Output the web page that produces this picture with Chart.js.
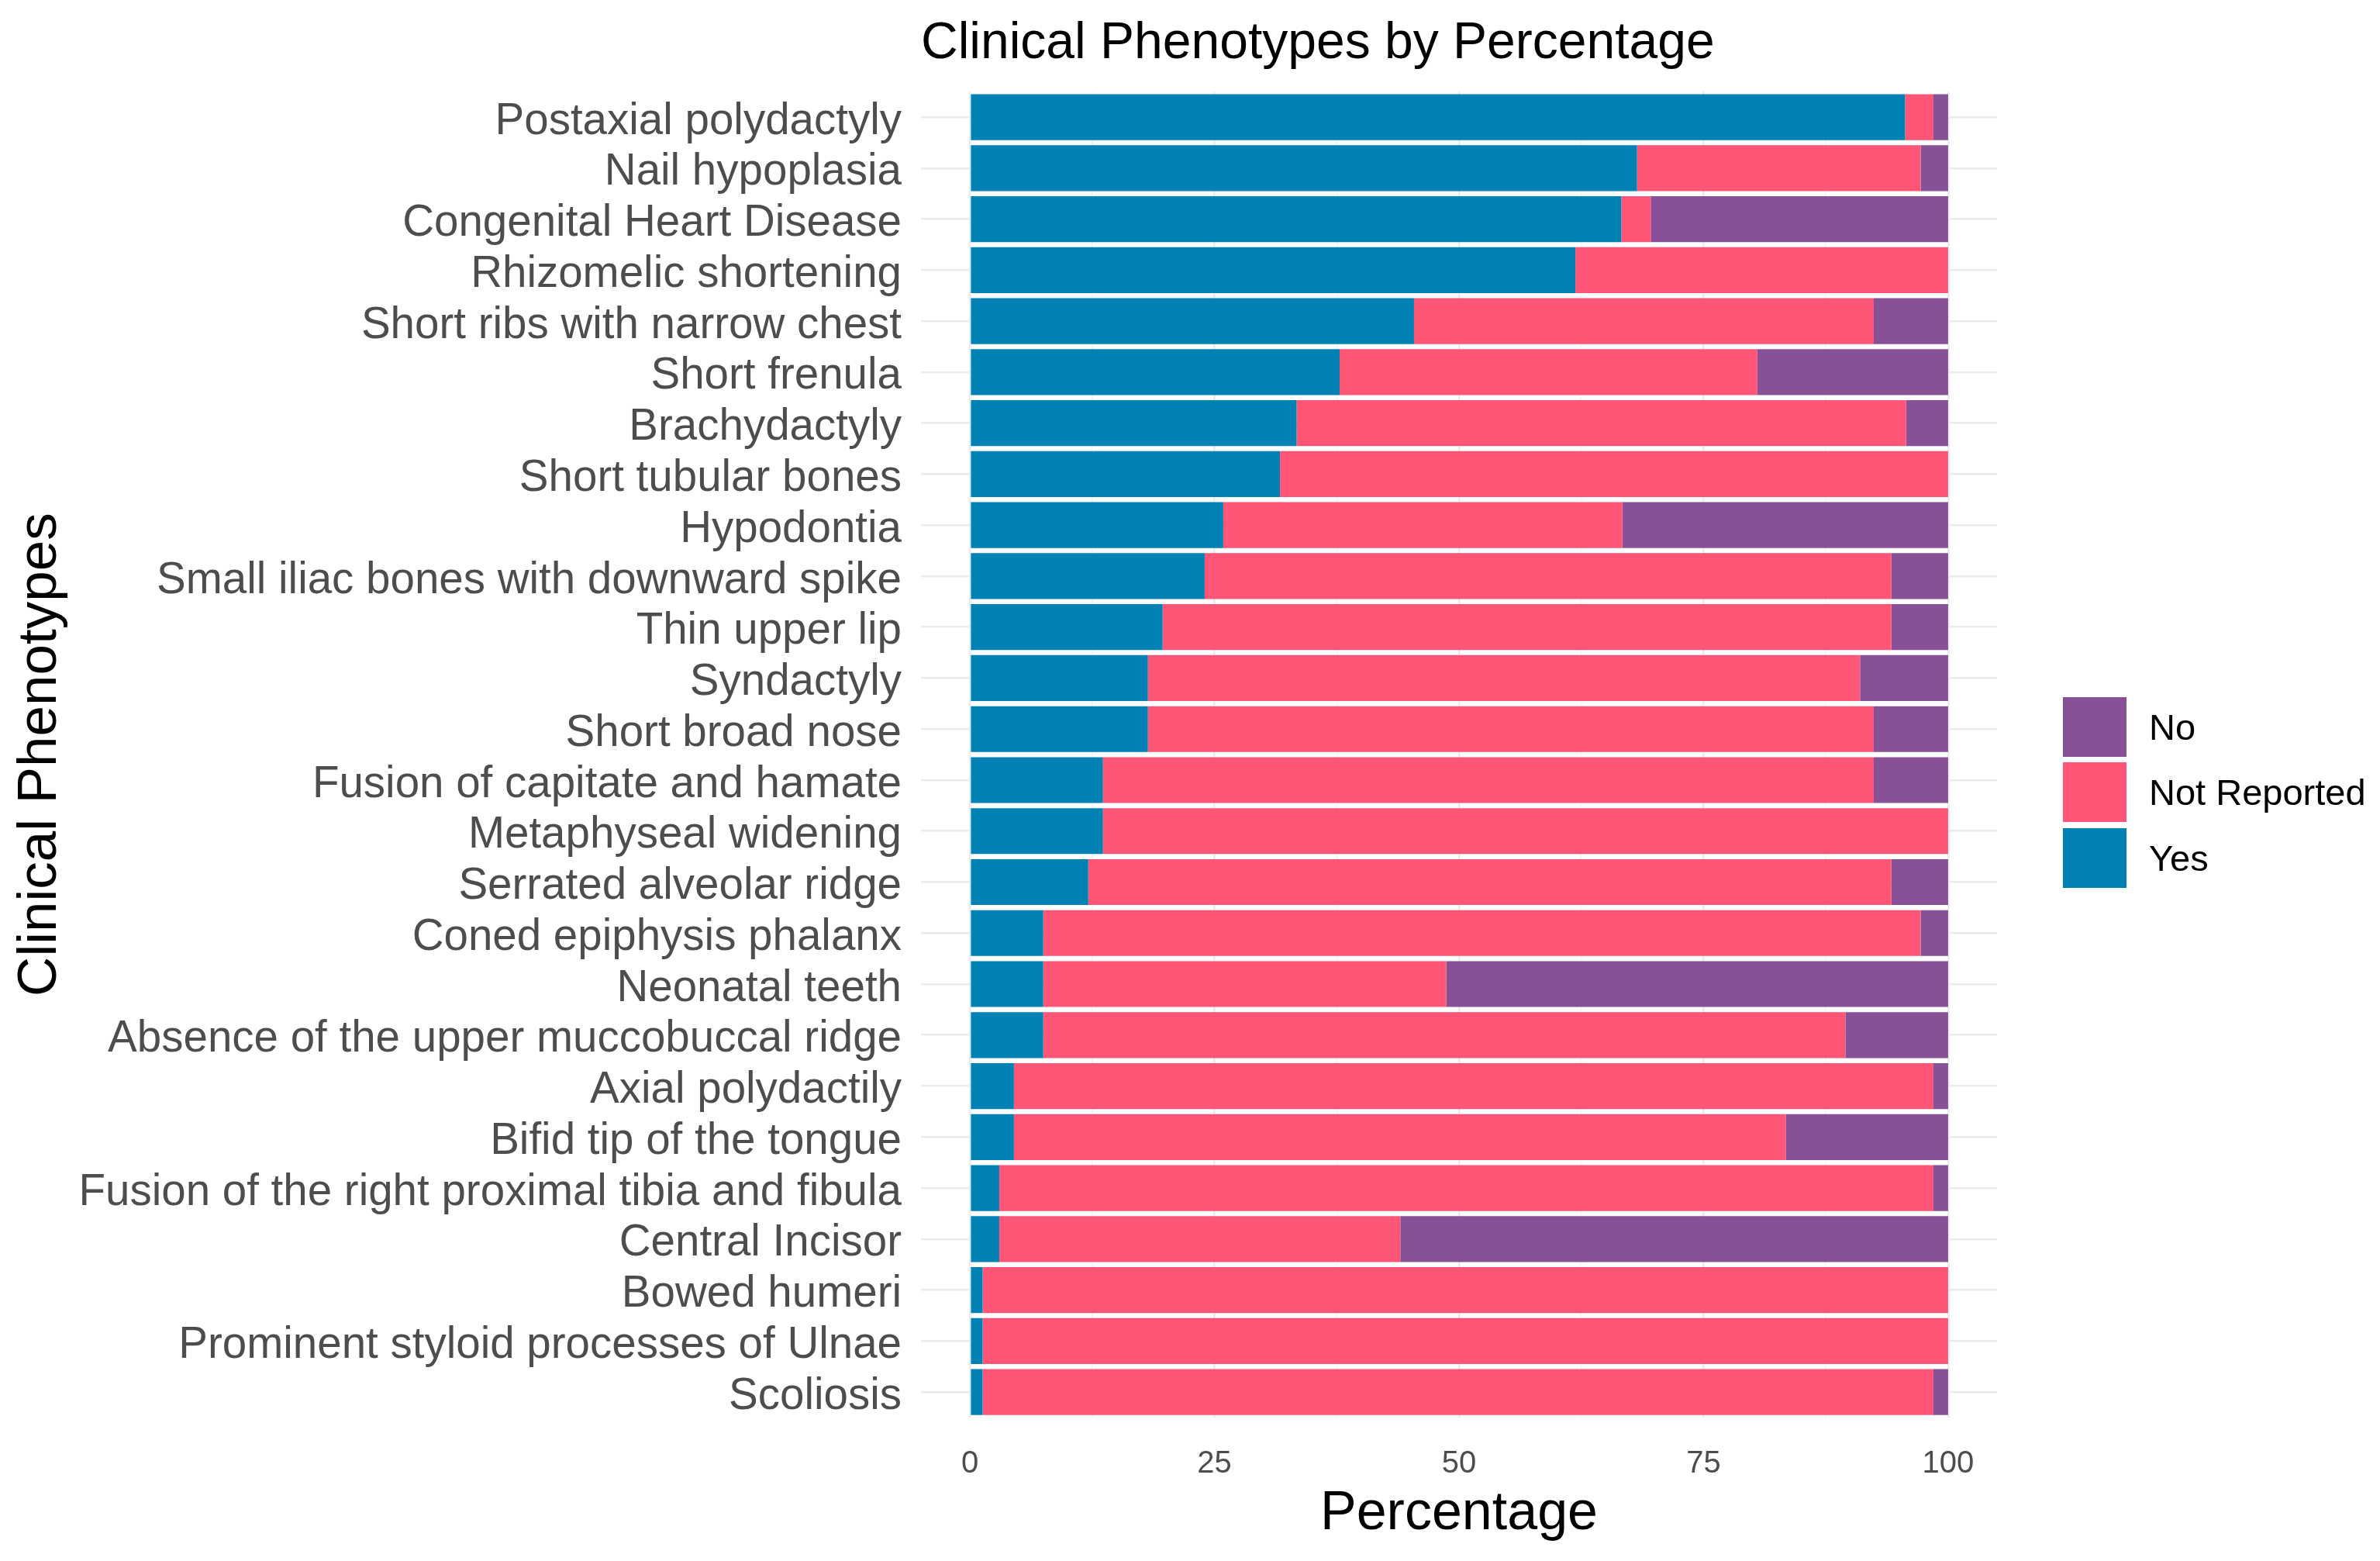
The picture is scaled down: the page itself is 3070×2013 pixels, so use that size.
<!DOCTYPE html>
<html>
<head>
<meta charset="utf-8">
<script src="https://cdn.jsdelivr.net/npm/chart.js@4.4.1/dist/chart.umd.min.js"></script>
<style>
  html, body { margin:0; padding:0; background:#fff; }
  #wrap { position:relative; width:3070px; height:2013px; }
  #legend { position:absolute; left:2661px; top:895px; font-family:"Liberation Sans", Arial, sans-serif; }
  .item { display:flex; align-items:center; height:84.5px; }
  .box { width:82px; height:77px; }
  .lbl { margin-left:29px; font-size:47px; color:#000; }
</style>
</head>
<body>
<div id="wrap">
  <canvas id="chart" width="3070" height="2013"></canvas>
  <div id="legend"></div>
</div>
<script>
// Phenotype rows, top to bottom as in the figure
const phenotypes = [
  'Postaxial polydactyly', 'Nail hypoplasia', 'Congenital Heart Disease', 'Rhizomelic shortening',
  'Short ribs with narrow chest', 'Short frenula', 'Brachydactyly', 'Short tubular bones',
  'Hypodontia', 'Small iliac bones with downward spike', 'Thin upper lip', 'Syndactyly',
  'Short broad nose', 'Fusion of capitate and hamate', 'Metaphyseal widening', 'Serrated alveolar ridge',
  'Coned epiphysis phalanx', 'Neonatal teeth', 'Absence of the upper muccobuccal ridge', 'Axial polydactily',
  'Bifid tip of the tongue', 'Fusion of the right proximal tibia and fibula', 'Central Incisor', 'Bowed humeri',
  'Prominent styloid processes of Ulnae', 'Scoliosis'
];

// percentages
const yesPct = [95.6, 68.2, 66.6, 61.9, 45.4, 37.8, 33.4, 31.7, 25.9, 24.0, 19.7, 18.2, 18.2,
                13.6, 13.6, 12.1, 7.5, 7.5, 7.5, 4.5, 4.5, 3.0, 3.0, 1.3, 1.3, 1.3];
const notReportedPct = [2.9, 29.0, 3.0, 38.1, 47.0, 42.7, 62.3, 68.3, 40.8, 70.2, 74.5, 72.8, 74.2,
                78.8, 86.4, 82.1, 89.7, 41.2, 82.0, 94.0, 78.9, 95.5, 41.0, 98.7, 98.7, 97.2];
const noPct = [1.5, 2.8, 30.4, 0, 7.6, 19.5, 4.3, 0, 33.3, 5.8, 5.8, 9.0, 7.6,
                7.6, 0, 5.8, 2.8, 51.3, 10.5, 1.5, 16.6, 1.5, 56.0, 0, 0, 1.5];

const seriesNames = ['Yes', 'Not Reported', 'No'];
const seriesColors = ['#0082B5', '#FF5577', '#885097'];

const xMajorTicks = [0, 25, 50, 75, 100];
const xMinorTicks = [12.5, 37.5, 62.5, 87.5];

const FONT = '"Liberation Sans", Arial, sans-serif';
Chart.defaults.font.family = FONT;

const seriesData = [yesPct, notReportedPct, noPct];
const datasets = seriesNames.map((name, i) => ({
  label: name,
  data: seriesData[i],
  backgroundColor: seriesColors[i],
  borderWidth: 0,
  barPercentage: 0.9,
  categoryPercentage: 1.0
}));

new Chart(document.getElementById('chart'), {
  type: 'bar',
  data: { labels: phenotypes, datasets },
  options: {
    indexAxis: 'y',
    responsive: false,
    animation: false,
    devicePixelRatio: 1,
    layout: { padding: { left: 0, right: 494, top: 0, bottom: 0 } },
    plugins: {
      legend: { display: false },
      tooltip: { enabled: false },
      title: {
        display: true,
        text: 'Clinical Phenotypes by Percentage',
        align: 'start',
        fullSize: false,
        color: '#000',
        font: { size: 66, weight: 'normal' },
        padding: { top: 17, bottom: 22 }
      }
    },
    scales: {
      x: {
        type: 'linear',
        stacked: true,
        min: -5,
        max: 105,
        afterBuildTicks: s => {
          s.ticks = xMajorTicks.concat(xMinorTicks).sort((a, b) => a - b).map(v => ({ value: v }));
        },
        afterFit: s => { s.height = 185; },
        ticks: {
          autoSkip: false,
          maxRotation: 0,
          padding: 36,
          color: '#4D4D4D',
          font: { size: 40 },
          callback: v => xMajorTicks.includes(v) ? String(v) : ''
        },
        grid: {
          drawTicks: false,
          color: c => xMajorTicks.includes(c.tick && c.tick.value) ? '#EBEBEB' : '#F3F3F3',
          lineWidth: c => xMajorTicks.includes(c.tick && c.tick.value) ? 2.6 : 1.4
        },
        border: { display: false },
        title: {
          display: true,
          text: 'Percentage',
          color: '#000',
          font: { size: 70 },
          padding: { top: 0, bottom: 18 }
        }
      },
      y: {
        stacked: true,
        afterFit: s => { s.width = 1188; },
        ticks: {
          autoSkip: false,
          padding: 25,
          labelOffset: 6,
          color: '#4D4D4D',
          font: { size: 56.5 }
        },
        grid: {
          offset: false,
          drawTicks: false,
          color: '#EBEBEB',
          lineWidth: 2.6
        },
        border: { display: false },
        title: {
          display: true,
          text: 'Clinical Phenotypes',
          color: '#000',
          font: { size: 71 },
          padding: { top: 10, bottom: 0 }
        }
      }
    }
  }
});

// legend: No, Not Reported, Yes (reverse of stacking order)
const legend = document.getElementById('legend');
for (let i = seriesNames.length - 1; i >= 0; i--) {
  const item = document.createElement('div');
  item.className = 'item';
  item.innerHTML = '<div class="box" style="background:' + seriesColors[i] + '"></div>' +
                   '<span class="lbl">' + seriesNames[i] + '</span>';
  legend.appendChild(item);
}
</script>
</body>
</html>
